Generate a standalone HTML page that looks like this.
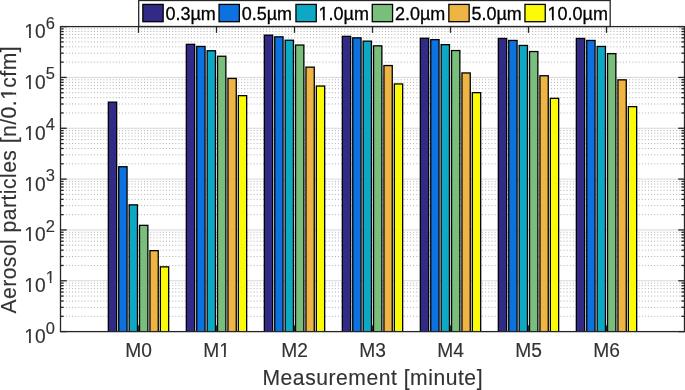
<!DOCTYPE html>
<html><head><meta charset="utf-8"><style>
html,body{margin:0;padding:0;background:#fff;}
svg{display:block;font-family:"Liberation Sans",sans-serif;will-change:transform;}
</style></head><body>
<svg width="685" height="390" viewBox="0 0 685 390">
<rect width="685" height="390" fill="#fff"/>
<line x1="60.5" x2="684.5" y1="316.30" y2="316.30" stroke="#b0b0b0" stroke-width="1" stroke-dasharray="1 2.13" stroke-dashoffset="1.0"/>
<line x1="60.5" x2="684.5" y1="307.35" y2="307.35" stroke="#b0b0b0" stroke-width="1" stroke-dasharray="1 2.13" stroke-dashoffset="1.0"/>
<line x1="60.5" x2="684.5" y1="301.00" y2="301.00" stroke="#b0b0b0" stroke-width="1" stroke-dasharray="1 2.13" stroke-dashoffset="1.0"/>
<line x1="60.5" x2="684.5" y1="296.07" y2="296.07" stroke="#b0b0b0" stroke-width="1" stroke-dasharray="1 2.13" stroke-dashoffset="1.0"/>
<line x1="60.5" x2="684.5" y1="292.04" y2="292.04" stroke="#b0b0b0" stroke-width="1" stroke-dasharray="1 2.13" stroke-dashoffset="1.0"/>
<line x1="60.5" x2="684.5" y1="288.64" y2="288.64" stroke="#b0b0b0" stroke-width="1" stroke-dasharray="1 2.13" stroke-dashoffset="1.0"/>
<line x1="60.5" x2="684.5" y1="285.69" y2="285.69" stroke="#b0b0b0" stroke-width="1" stroke-dasharray="1 2.13" stroke-dashoffset="1.0"/>
<line x1="60.5" x2="684.5" y1="283.09" y2="283.09" stroke="#b0b0b0" stroke-width="1" stroke-dasharray="1 2.13" stroke-dashoffset="1.0"/>
<line x1="60.5" x2="684.5" y1="265.46" y2="265.46" stroke="#b0b0b0" stroke-width="1" stroke-dasharray="1 2.13" stroke-dashoffset="1.0"/>
<line x1="60.5" x2="684.5" y1="256.51" y2="256.51" stroke="#b0b0b0" stroke-width="1" stroke-dasharray="1 2.13" stroke-dashoffset="1.0"/>
<line x1="60.5" x2="684.5" y1="250.16" y2="250.16" stroke="#b0b0b0" stroke-width="1" stroke-dasharray="1 2.13" stroke-dashoffset="1.0"/>
<line x1="60.5" x2="684.5" y1="245.24" y2="245.24" stroke="#b0b0b0" stroke-width="1" stroke-dasharray="1 2.13" stroke-dashoffset="1.0"/>
<line x1="60.5" x2="684.5" y1="241.21" y2="241.21" stroke="#b0b0b0" stroke-width="1" stroke-dasharray="1 2.13" stroke-dashoffset="1.0"/>
<line x1="60.5" x2="684.5" y1="237.81" y2="237.81" stroke="#b0b0b0" stroke-width="1" stroke-dasharray="1 2.13" stroke-dashoffset="1.0"/>
<line x1="60.5" x2="684.5" y1="234.86" y2="234.86" stroke="#b0b0b0" stroke-width="1" stroke-dasharray="1 2.13" stroke-dashoffset="1.0"/>
<line x1="60.5" x2="684.5" y1="232.26" y2="232.26" stroke="#b0b0b0" stroke-width="1" stroke-dasharray="1 2.13" stroke-dashoffset="1.0"/>
<line x1="60.5" x2="684.5" y1="214.63" y2="214.63" stroke="#b0b0b0" stroke-width="1" stroke-dasharray="1 2.13" stroke-dashoffset="1.0"/>
<line x1="60.5" x2="684.5" y1="205.68" y2="205.68" stroke="#b0b0b0" stroke-width="1" stroke-dasharray="1 2.13" stroke-dashoffset="1.0"/>
<line x1="60.5" x2="684.5" y1="199.33" y2="199.33" stroke="#b0b0b0" stroke-width="1" stroke-dasharray="1 2.13" stroke-dashoffset="1.0"/>
<line x1="60.5" x2="684.5" y1="194.40" y2="194.40" stroke="#b0b0b0" stroke-width="1" stroke-dasharray="1 2.13" stroke-dashoffset="1.0"/>
<line x1="60.5" x2="684.5" y1="190.38" y2="190.38" stroke="#b0b0b0" stroke-width="1" stroke-dasharray="1 2.13" stroke-dashoffset="1.0"/>
<line x1="60.5" x2="684.5" y1="186.97" y2="186.97" stroke="#b0b0b0" stroke-width="1" stroke-dasharray="1 2.13" stroke-dashoffset="1.0"/>
<line x1="60.5" x2="684.5" y1="184.03" y2="184.03" stroke="#b0b0b0" stroke-width="1" stroke-dasharray="1 2.13" stroke-dashoffset="1.0"/>
<line x1="60.5" x2="684.5" y1="181.43" y2="181.43" stroke="#b0b0b0" stroke-width="1" stroke-dasharray="1 2.13" stroke-dashoffset="1.0"/>
<line x1="60.5" x2="684.5" y1="163.80" y2="163.80" stroke="#b0b0b0" stroke-width="1" stroke-dasharray="1 2.13" stroke-dashoffset="1.0"/>
<line x1="60.5" x2="684.5" y1="154.85" y2="154.85" stroke="#b0b0b0" stroke-width="1" stroke-dasharray="1 2.13" stroke-dashoffset="1.0"/>
<line x1="60.5" x2="684.5" y1="148.50" y2="148.50" stroke="#b0b0b0" stroke-width="1" stroke-dasharray="1 2.13" stroke-dashoffset="1.0"/>
<line x1="60.5" x2="684.5" y1="143.57" y2="143.57" stroke="#b0b0b0" stroke-width="1" stroke-dasharray="1 2.13" stroke-dashoffset="1.0"/>
<line x1="60.5" x2="684.5" y1="139.54" y2="139.54" stroke="#b0b0b0" stroke-width="1" stroke-dasharray="1 2.13" stroke-dashoffset="1.0"/>
<line x1="60.5" x2="684.5" y1="136.14" y2="136.14" stroke="#b0b0b0" stroke-width="1" stroke-dasharray="1 2.13" stroke-dashoffset="1.0"/>
<line x1="60.5" x2="684.5" y1="133.19" y2="133.19" stroke="#b0b0b0" stroke-width="1" stroke-dasharray="1 2.13" stroke-dashoffset="1.0"/>
<line x1="60.5" x2="684.5" y1="130.59" y2="130.59" stroke="#b0b0b0" stroke-width="1" stroke-dasharray="1 2.13" stroke-dashoffset="1.0"/>
<line x1="60.5" x2="684.5" y1="112.96" y2="112.96" stroke="#b0b0b0" stroke-width="1" stroke-dasharray="1 2.13" stroke-dashoffset="1.0"/>
<line x1="60.5" x2="684.5" y1="104.01" y2="104.01" stroke="#b0b0b0" stroke-width="1" stroke-dasharray="1 2.13" stroke-dashoffset="1.0"/>
<line x1="60.5" x2="684.5" y1="97.66" y2="97.66" stroke="#b0b0b0" stroke-width="1" stroke-dasharray="1 2.13" stroke-dashoffset="1.0"/>
<line x1="60.5" x2="684.5" y1="92.74" y2="92.74" stroke="#b0b0b0" stroke-width="1" stroke-dasharray="1 2.13" stroke-dashoffset="1.0"/>
<line x1="60.5" x2="684.5" y1="88.71" y2="88.71" stroke="#b0b0b0" stroke-width="1" stroke-dasharray="1 2.13" stroke-dashoffset="1.0"/>
<line x1="60.5" x2="684.5" y1="85.31" y2="85.31" stroke="#b0b0b0" stroke-width="1" stroke-dasharray="1 2.13" stroke-dashoffset="1.0"/>
<line x1="60.5" x2="684.5" y1="82.36" y2="82.36" stroke="#b0b0b0" stroke-width="1" stroke-dasharray="1 2.13" stroke-dashoffset="1.0"/>
<line x1="60.5" x2="684.5" y1="79.76" y2="79.76" stroke="#b0b0b0" stroke-width="1" stroke-dasharray="1 2.13" stroke-dashoffset="1.0"/>
<line x1="60.5" x2="684.5" y1="62.13" y2="62.13" stroke="#b0b0b0" stroke-width="1" stroke-dasharray="1 2.13" stroke-dashoffset="1.0"/>
<line x1="60.5" x2="684.5" y1="53.18" y2="53.18" stroke="#b0b0b0" stroke-width="1" stroke-dasharray="1 2.13" stroke-dashoffset="1.0"/>
<line x1="60.5" x2="684.5" y1="46.83" y2="46.83" stroke="#b0b0b0" stroke-width="1" stroke-dasharray="1 2.13" stroke-dashoffset="1.0"/>
<line x1="60.5" x2="684.5" y1="41.90" y2="41.90" stroke="#b0b0b0" stroke-width="1" stroke-dasharray="1 2.13" stroke-dashoffset="1.0"/>
<line x1="60.5" x2="684.5" y1="37.88" y2="37.88" stroke="#b0b0b0" stroke-width="1" stroke-dasharray="1 2.13" stroke-dashoffset="1.0"/>
<line x1="60.5" x2="684.5" y1="34.47" y2="34.47" stroke="#b0b0b0" stroke-width="1" stroke-dasharray="1 2.13" stroke-dashoffset="1.0"/>
<line x1="60.5" x2="684.5" y1="31.53" y2="31.53" stroke="#b0b0b0" stroke-width="1" stroke-dasharray="1 2.13" stroke-dashoffset="1.0"/>
<line x1="60.5" x2="684.5" y1="28.93" y2="28.93" stroke="#b0b0b0" stroke-width="1" stroke-dasharray="1 2.13" stroke-dashoffset="1.0"/>
<line x1="60.5" x2="684.5" y1="280.77" y2="280.77" stroke="#d8d8d8" stroke-width="1"/>
<line x1="60.5" x2="684.5" y1="229.93" y2="229.93" stroke="#d8d8d8" stroke-width="1"/>
<line x1="60.5" x2="684.5" y1="179.10" y2="179.10" stroke="#d8d8d8" stroke-width="1"/>
<line x1="60.5" x2="684.5" y1="128.27" y2="128.27" stroke="#d8d8d8" stroke-width="1"/>
<line x1="60.5" x2="684.5" y1="77.43" y2="77.43" stroke="#d8d8d8" stroke-width="1"/>
<rect x="108.34" y="102.15" width="8.32" height="232.45" fill="#322a87" stroke="#000" stroke-width="1.3"/>
<rect x="118.74" y="166.75" width="8.32" height="167.85" fill="#0c72e0" stroke="#000" stroke-width="1.3"/>
<rect x="129.14" y="204.85" width="8.32" height="129.75" fill="#0ca8c4" stroke="#000" stroke-width="1.3"/>
<rect x="139.54" y="225.35" width="8.32" height="109.25" fill="#7abe7b" stroke="#000" stroke-width="1.3"/>
<rect x="149.94" y="250.65" width="8.32" height="83.95" fill="#eeb444" stroke="#000" stroke-width="1.3"/>
<rect x="160.34" y="266.85" width="8.32" height="67.75" fill="#fbfb08" stroke="#000" stroke-width="1.3"/>
<rect x="186.34" y="44.35" width="8.32" height="290.25" fill="#322a87" stroke="#000" stroke-width="1.3"/>
<rect x="196.74" y="46.45" width="8.32" height="288.15" fill="#0c72e0" stroke="#000" stroke-width="1.3"/>
<rect x="207.14" y="50.75" width="8.32" height="283.85" fill="#0ca8c4" stroke="#000" stroke-width="1.3"/>
<rect x="217.54" y="56.25" width="8.32" height="278.35" fill="#7abe7b" stroke="#000" stroke-width="1.3"/>
<rect x="227.94" y="78.45" width="8.32" height="256.15" fill="#eeb444" stroke="#000" stroke-width="1.3"/>
<rect x="238.34" y="95.65" width="8.32" height="238.95" fill="#fbfb08" stroke="#000" stroke-width="1.3"/>
<rect x="264.34" y="35.15" width="8.32" height="299.45" fill="#322a87" stroke="#000" stroke-width="1.3"/>
<rect x="274.74" y="36.85" width="8.32" height="297.75" fill="#0c72e0" stroke="#000" stroke-width="1.3"/>
<rect x="285.14" y="40.25" width="8.32" height="294.35" fill="#0ca8c4" stroke="#000" stroke-width="1.3"/>
<rect x="295.54" y="45.05" width="8.32" height="289.55" fill="#7abe7b" stroke="#000" stroke-width="1.3"/>
<rect x="305.94" y="67.15" width="8.32" height="267.45" fill="#eeb444" stroke="#000" stroke-width="1.3"/>
<rect x="316.34" y="86.05" width="8.32" height="248.55" fill="#fbfb08" stroke="#000" stroke-width="1.3"/>
<rect x="342.34" y="36.35" width="8.32" height="298.25" fill="#322a87" stroke="#000" stroke-width="1.3"/>
<rect x="352.74" y="37.85" width="8.32" height="296.75" fill="#0c72e0" stroke="#000" stroke-width="1.3"/>
<rect x="363.14" y="41.15" width="8.32" height="293.45" fill="#0ca8c4" stroke="#000" stroke-width="1.3"/>
<rect x="373.54" y="45.85" width="8.32" height="288.75" fill="#7abe7b" stroke="#000" stroke-width="1.3"/>
<rect x="383.94" y="65.55" width="8.32" height="269.05" fill="#eeb444" stroke="#000" stroke-width="1.3"/>
<rect x="394.34" y="83.95" width="8.32" height="250.65" fill="#fbfb08" stroke="#000" stroke-width="1.3"/>
<rect x="420.34" y="38.25" width="8.32" height="296.35" fill="#322a87" stroke="#000" stroke-width="1.3"/>
<rect x="430.74" y="39.65" width="8.32" height="294.95" fill="#0c72e0" stroke="#000" stroke-width="1.3"/>
<rect x="441.14" y="44.65" width="8.32" height="289.95" fill="#0ca8c4" stroke="#000" stroke-width="1.3"/>
<rect x="451.54" y="50.55" width="8.32" height="284.05" fill="#7abe7b" stroke="#000" stroke-width="1.3"/>
<rect x="461.94" y="72.95" width="8.32" height="261.65" fill="#eeb444" stroke="#000" stroke-width="1.3"/>
<rect x="472.34" y="92.65" width="8.32" height="241.95" fill="#fbfb08" stroke="#000" stroke-width="1.3"/>
<rect x="498.34" y="38.45" width="8.32" height="296.15" fill="#322a87" stroke="#000" stroke-width="1.3"/>
<rect x="508.74" y="40.45" width="8.32" height="294.15" fill="#0c72e0" stroke="#000" stroke-width="1.3"/>
<rect x="519.14" y="45.45" width="8.32" height="289.15" fill="#0ca8c4" stroke="#000" stroke-width="1.3"/>
<rect x="529.54" y="51.55" width="8.32" height="283.05" fill="#7abe7b" stroke="#000" stroke-width="1.3"/>
<rect x="539.94" y="75.75" width="8.32" height="258.85" fill="#eeb444" stroke="#000" stroke-width="1.3"/>
<rect x="550.34" y="98.35" width="8.32" height="236.25" fill="#fbfb08" stroke="#000" stroke-width="1.3"/>
<rect x="576.34" y="38.45" width="8.32" height="296.15" fill="#322a87" stroke="#000" stroke-width="1.3"/>
<rect x="586.74" y="40.45" width="8.32" height="294.15" fill="#0c72e0" stroke="#000" stroke-width="1.3"/>
<rect x="597.14" y="46.45" width="8.32" height="288.15" fill="#0ca8c4" stroke="#000" stroke-width="1.3"/>
<rect x="607.54" y="53.65" width="8.32" height="280.95" fill="#7abe7b" stroke="#000" stroke-width="1.3"/>
<rect x="617.94" y="79.85" width="8.32" height="254.75" fill="#eeb444" stroke="#000" stroke-width="1.3"/>
<rect x="628.34" y="106.65" width="8.32" height="227.95" fill="#fbfb08" stroke="#000" stroke-width="1.3"/>
<rect x="0" y="331.6" width="685" height="60" fill="#fff"/>
<line x1="138.50" x2="138.50" y1="331.6" y2="325.36" stroke="#262626" stroke-width="1.3"/>
<line x1="138.50" x2="138.50" y1="26.6" y2="32.84" stroke="#262626" stroke-width="1.3"/>
<line x1="216.50" x2="216.50" y1="331.6" y2="325.36" stroke="#262626" stroke-width="1.3"/>
<line x1="216.50" x2="216.50" y1="26.6" y2="32.84" stroke="#262626" stroke-width="1.3"/>
<line x1="294.50" x2="294.50" y1="331.6" y2="325.36" stroke="#262626" stroke-width="1.3"/>
<line x1="294.50" x2="294.50" y1="26.6" y2="32.84" stroke="#262626" stroke-width="1.3"/>
<line x1="372.50" x2="372.50" y1="331.6" y2="325.36" stroke="#262626" stroke-width="1.3"/>
<line x1="372.50" x2="372.50" y1="26.6" y2="32.84" stroke="#262626" stroke-width="1.3"/>
<line x1="450.50" x2="450.50" y1="331.6" y2="325.36" stroke="#262626" stroke-width="1.3"/>
<line x1="450.50" x2="450.50" y1="26.6" y2="32.84" stroke="#262626" stroke-width="1.3"/>
<line x1="528.50" x2="528.50" y1="331.6" y2="325.36" stroke="#262626" stroke-width="1.3"/>
<line x1="528.50" x2="528.50" y1="26.6" y2="32.84" stroke="#262626" stroke-width="1.3"/>
<line x1="606.50" x2="606.50" y1="331.6" y2="325.36" stroke="#262626" stroke-width="1.3"/>
<line x1="606.50" x2="606.50" y1="26.6" y2="32.84" stroke="#262626" stroke-width="1.3"/>
<line x1="60.5" x2="66.74" y1="331.60" y2="331.60" stroke="#262626" stroke-width="1.3"/>
<line x1="684.5" x2="678.26" y1="331.60" y2="331.60" stroke="#262626" stroke-width="1.3"/>
<line x1="60.5" x2="63.62" y1="316.30" y2="316.30" stroke="#262626" stroke-width="1.3"/>
<line x1="684.5" x2="681.38" y1="316.30" y2="316.30" stroke="#262626" stroke-width="1.3"/>
<line x1="60.5" x2="63.62" y1="307.35" y2="307.35" stroke="#262626" stroke-width="1.3"/>
<line x1="684.5" x2="681.38" y1="307.35" y2="307.35" stroke="#262626" stroke-width="1.3"/>
<line x1="60.5" x2="63.62" y1="301.00" y2="301.00" stroke="#262626" stroke-width="1.3"/>
<line x1="684.5" x2="681.38" y1="301.00" y2="301.00" stroke="#262626" stroke-width="1.3"/>
<line x1="60.5" x2="63.62" y1="296.07" y2="296.07" stroke="#262626" stroke-width="1.3"/>
<line x1="684.5" x2="681.38" y1="296.07" y2="296.07" stroke="#262626" stroke-width="1.3"/>
<line x1="60.5" x2="63.62" y1="292.04" y2="292.04" stroke="#262626" stroke-width="1.3"/>
<line x1="684.5" x2="681.38" y1="292.04" y2="292.04" stroke="#262626" stroke-width="1.3"/>
<line x1="60.5" x2="63.62" y1="288.64" y2="288.64" stroke="#262626" stroke-width="1.3"/>
<line x1="684.5" x2="681.38" y1="288.64" y2="288.64" stroke="#262626" stroke-width="1.3"/>
<line x1="60.5" x2="63.62" y1="285.69" y2="285.69" stroke="#262626" stroke-width="1.3"/>
<line x1="684.5" x2="681.38" y1="285.69" y2="285.69" stroke="#262626" stroke-width="1.3"/>
<line x1="60.5" x2="63.62" y1="283.09" y2="283.09" stroke="#262626" stroke-width="1.3"/>
<line x1="684.5" x2="681.38" y1="283.09" y2="283.09" stroke="#262626" stroke-width="1.3"/>
<line x1="60.5" x2="66.74" y1="280.77" y2="280.77" stroke="#262626" stroke-width="1.3"/>
<line x1="684.5" x2="678.26" y1="280.77" y2="280.77" stroke="#262626" stroke-width="1.3"/>
<line x1="60.5" x2="63.62" y1="265.46" y2="265.46" stroke="#262626" stroke-width="1.3"/>
<line x1="684.5" x2="681.38" y1="265.46" y2="265.46" stroke="#262626" stroke-width="1.3"/>
<line x1="60.5" x2="63.62" y1="256.51" y2="256.51" stroke="#262626" stroke-width="1.3"/>
<line x1="684.5" x2="681.38" y1="256.51" y2="256.51" stroke="#262626" stroke-width="1.3"/>
<line x1="60.5" x2="63.62" y1="250.16" y2="250.16" stroke="#262626" stroke-width="1.3"/>
<line x1="684.5" x2="681.38" y1="250.16" y2="250.16" stroke="#262626" stroke-width="1.3"/>
<line x1="60.5" x2="63.62" y1="245.24" y2="245.24" stroke="#262626" stroke-width="1.3"/>
<line x1="684.5" x2="681.38" y1="245.24" y2="245.24" stroke="#262626" stroke-width="1.3"/>
<line x1="60.5" x2="63.62" y1="241.21" y2="241.21" stroke="#262626" stroke-width="1.3"/>
<line x1="684.5" x2="681.38" y1="241.21" y2="241.21" stroke="#262626" stroke-width="1.3"/>
<line x1="60.5" x2="63.62" y1="237.81" y2="237.81" stroke="#262626" stroke-width="1.3"/>
<line x1="684.5" x2="681.38" y1="237.81" y2="237.81" stroke="#262626" stroke-width="1.3"/>
<line x1="60.5" x2="63.62" y1="234.86" y2="234.86" stroke="#262626" stroke-width="1.3"/>
<line x1="684.5" x2="681.38" y1="234.86" y2="234.86" stroke="#262626" stroke-width="1.3"/>
<line x1="60.5" x2="63.62" y1="232.26" y2="232.26" stroke="#262626" stroke-width="1.3"/>
<line x1="684.5" x2="681.38" y1="232.26" y2="232.26" stroke="#262626" stroke-width="1.3"/>
<line x1="60.5" x2="66.74" y1="229.93" y2="229.93" stroke="#262626" stroke-width="1.3"/>
<line x1="684.5" x2="678.26" y1="229.93" y2="229.93" stroke="#262626" stroke-width="1.3"/>
<line x1="60.5" x2="63.62" y1="214.63" y2="214.63" stroke="#262626" stroke-width="1.3"/>
<line x1="684.5" x2="681.38" y1="214.63" y2="214.63" stroke="#262626" stroke-width="1.3"/>
<line x1="60.5" x2="63.62" y1="205.68" y2="205.68" stroke="#262626" stroke-width="1.3"/>
<line x1="684.5" x2="681.38" y1="205.68" y2="205.68" stroke="#262626" stroke-width="1.3"/>
<line x1="60.5" x2="63.62" y1="199.33" y2="199.33" stroke="#262626" stroke-width="1.3"/>
<line x1="684.5" x2="681.38" y1="199.33" y2="199.33" stroke="#262626" stroke-width="1.3"/>
<line x1="60.5" x2="63.62" y1="194.40" y2="194.40" stroke="#262626" stroke-width="1.3"/>
<line x1="684.5" x2="681.38" y1="194.40" y2="194.40" stroke="#262626" stroke-width="1.3"/>
<line x1="60.5" x2="63.62" y1="190.38" y2="190.38" stroke="#262626" stroke-width="1.3"/>
<line x1="684.5" x2="681.38" y1="190.38" y2="190.38" stroke="#262626" stroke-width="1.3"/>
<line x1="60.5" x2="63.62" y1="186.97" y2="186.97" stroke="#262626" stroke-width="1.3"/>
<line x1="684.5" x2="681.38" y1="186.97" y2="186.97" stroke="#262626" stroke-width="1.3"/>
<line x1="60.5" x2="63.62" y1="184.03" y2="184.03" stroke="#262626" stroke-width="1.3"/>
<line x1="684.5" x2="681.38" y1="184.03" y2="184.03" stroke="#262626" stroke-width="1.3"/>
<line x1="60.5" x2="63.62" y1="181.43" y2="181.43" stroke="#262626" stroke-width="1.3"/>
<line x1="684.5" x2="681.38" y1="181.43" y2="181.43" stroke="#262626" stroke-width="1.3"/>
<line x1="60.5" x2="66.74" y1="179.10" y2="179.10" stroke="#262626" stroke-width="1.3"/>
<line x1="684.5" x2="678.26" y1="179.10" y2="179.10" stroke="#262626" stroke-width="1.3"/>
<line x1="60.5" x2="63.62" y1="163.80" y2="163.80" stroke="#262626" stroke-width="1.3"/>
<line x1="684.5" x2="681.38" y1="163.80" y2="163.80" stroke="#262626" stroke-width="1.3"/>
<line x1="60.5" x2="63.62" y1="154.85" y2="154.85" stroke="#262626" stroke-width="1.3"/>
<line x1="684.5" x2="681.38" y1="154.85" y2="154.85" stroke="#262626" stroke-width="1.3"/>
<line x1="60.5" x2="63.62" y1="148.50" y2="148.50" stroke="#262626" stroke-width="1.3"/>
<line x1="684.5" x2="681.38" y1="148.50" y2="148.50" stroke="#262626" stroke-width="1.3"/>
<line x1="60.5" x2="63.62" y1="143.57" y2="143.57" stroke="#262626" stroke-width="1.3"/>
<line x1="684.5" x2="681.38" y1="143.57" y2="143.57" stroke="#262626" stroke-width="1.3"/>
<line x1="60.5" x2="63.62" y1="139.54" y2="139.54" stroke="#262626" stroke-width="1.3"/>
<line x1="684.5" x2="681.38" y1="139.54" y2="139.54" stroke="#262626" stroke-width="1.3"/>
<line x1="60.5" x2="63.62" y1="136.14" y2="136.14" stroke="#262626" stroke-width="1.3"/>
<line x1="684.5" x2="681.38" y1="136.14" y2="136.14" stroke="#262626" stroke-width="1.3"/>
<line x1="60.5" x2="63.62" y1="133.19" y2="133.19" stroke="#262626" stroke-width="1.3"/>
<line x1="684.5" x2="681.38" y1="133.19" y2="133.19" stroke="#262626" stroke-width="1.3"/>
<line x1="60.5" x2="63.62" y1="130.59" y2="130.59" stroke="#262626" stroke-width="1.3"/>
<line x1="684.5" x2="681.38" y1="130.59" y2="130.59" stroke="#262626" stroke-width="1.3"/>
<line x1="60.5" x2="66.74" y1="128.27" y2="128.27" stroke="#262626" stroke-width="1.3"/>
<line x1="684.5" x2="678.26" y1="128.27" y2="128.27" stroke="#262626" stroke-width="1.3"/>
<line x1="60.5" x2="63.62" y1="112.96" y2="112.96" stroke="#262626" stroke-width="1.3"/>
<line x1="684.5" x2="681.38" y1="112.96" y2="112.96" stroke="#262626" stroke-width="1.3"/>
<line x1="60.5" x2="63.62" y1="104.01" y2="104.01" stroke="#262626" stroke-width="1.3"/>
<line x1="684.5" x2="681.38" y1="104.01" y2="104.01" stroke="#262626" stroke-width="1.3"/>
<line x1="60.5" x2="63.62" y1="97.66" y2="97.66" stroke="#262626" stroke-width="1.3"/>
<line x1="684.5" x2="681.38" y1="97.66" y2="97.66" stroke="#262626" stroke-width="1.3"/>
<line x1="60.5" x2="63.62" y1="92.74" y2="92.74" stroke="#262626" stroke-width="1.3"/>
<line x1="684.5" x2="681.38" y1="92.74" y2="92.74" stroke="#262626" stroke-width="1.3"/>
<line x1="60.5" x2="63.62" y1="88.71" y2="88.71" stroke="#262626" stroke-width="1.3"/>
<line x1="684.5" x2="681.38" y1="88.71" y2="88.71" stroke="#262626" stroke-width="1.3"/>
<line x1="60.5" x2="63.62" y1="85.31" y2="85.31" stroke="#262626" stroke-width="1.3"/>
<line x1="684.5" x2="681.38" y1="85.31" y2="85.31" stroke="#262626" stroke-width="1.3"/>
<line x1="60.5" x2="63.62" y1="82.36" y2="82.36" stroke="#262626" stroke-width="1.3"/>
<line x1="684.5" x2="681.38" y1="82.36" y2="82.36" stroke="#262626" stroke-width="1.3"/>
<line x1="60.5" x2="63.62" y1="79.76" y2="79.76" stroke="#262626" stroke-width="1.3"/>
<line x1="684.5" x2="681.38" y1="79.76" y2="79.76" stroke="#262626" stroke-width="1.3"/>
<line x1="60.5" x2="66.74" y1="77.43" y2="77.43" stroke="#262626" stroke-width="1.3"/>
<line x1="684.5" x2="678.26" y1="77.43" y2="77.43" stroke="#262626" stroke-width="1.3"/>
<line x1="60.5" x2="63.62" y1="62.13" y2="62.13" stroke="#262626" stroke-width="1.3"/>
<line x1="684.5" x2="681.38" y1="62.13" y2="62.13" stroke="#262626" stroke-width="1.3"/>
<line x1="60.5" x2="63.62" y1="53.18" y2="53.18" stroke="#262626" stroke-width="1.3"/>
<line x1="684.5" x2="681.38" y1="53.18" y2="53.18" stroke="#262626" stroke-width="1.3"/>
<line x1="60.5" x2="63.62" y1="46.83" y2="46.83" stroke="#262626" stroke-width="1.3"/>
<line x1="684.5" x2="681.38" y1="46.83" y2="46.83" stroke="#262626" stroke-width="1.3"/>
<line x1="60.5" x2="63.62" y1="41.90" y2="41.90" stroke="#262626" stroke-width="1.3"/>
<line x1="684.5" x2="681.38" y1="41.90" y2="41.90" stroke="#262626" stroke-width="1.3"/>
<line x1="60.5" x2="63.62" y1="37.88" y2="37.88" stroke="#262626" stroke-width="1.3"/>
<line x1="684.5" x2="681.38" y1="37.88" y2="37.88" stroke="#262626" stroke-width="1.3"/>
<line x1="60.5" x2="63.62" y1="34.47" y2="34.47" stroke="#262626" stroke-width="1.3"/>
<line x1="684.5" x2="681.38" y1="34.47" y2="34.47" stroke="#262626" stroke-width="1.3"/>
<line x1="60.5" x2="63.62" y1="31.53" y2="31.53" stroke="#262626" stroke-width="1.3"/>
<line x1="684.5" x2="681.38" y1="31.53" y2="31.53" stroke="#262626" stroke-width="1.3"/>
<line x1="60.5" x2="63.62" y1="28.93" y2="28.93" stroke="#262626" stroke-width="1.3"/>
<line x1="684.5" x2="681.38" y1="28.93" y2="28.93" stroke="#262626" stroke-width="1.3"/>
<line x1="60.5" x2="66.74" y1="26.60" y2="26.60" stroke="#262626" stroke-width="1.3"/>
<line x1="684.5" x2="678.26" y1="26.60" y2="26.60" stroke="#262626" stroke-width="1.3"/>
<rect x="60.5" y="26.6" width="624.0" height="305.0" fill="none" stroke="#262626" stroke-width="1.3"/>
<text transform="translate(45.60,343.00) scale(1,1.04)" font-size="19.2" fill="#333333" text-anchor="end" stroke="#333333" stroke-width="0.15">10</text>
<text transform="translate(45.80,333.60) scale(1,1.04)" font-size="16.5" fill="#333333" text-anchor="start" stroke="#333333" stroke-width="0.15">0</text>
<text transform="translate(45.60,292.17) scale(1,1.04)" font-size="19.2" fill="#333333" text-anchor="end" stroke="#333333" stroke-width="0.15">10</text>
<text transform="translate(45.80,282.77) scale(1,1.04)" font-size="16.5" fill="#333333" text-anchor="start" stroke="#333333" stroke-width="0.15">1</text>
<text transform="translate(45.60,241.33) scale(1,1.04)" font-size="19.2" fill="#333333" text-anchor="end" stroke="#333333" stroke-width="0.15">10</text>
<text transform="translate(45.80,231.93) scale(1,1.04)" font-size="16.5" fill="#333333" text-anchor="start" stroke="#333333" stroke-width="0.15">2</text>
<text transform="translate(45.60,190.50) scale(1,1.04)" font-size="19.2" fill="#333333" text-anchor="end" stroke="#333333" stroke-width="0.15">10</text>
<text transform="translate(45.80,181.10) scale(1,1.04)" font-size="16.5" fill="#333333" text-anchor="start" stroke="#333333" stroke-width="0.15">3</text>
<text transform="translate(45.60,139.67) scale(1,1.04)" font-size="19.2" fill="#333333" text-anchor="end" stroke="#333333" stroke-width="0.15">10</text>
<text transform="translate(45.80,130.27) scale(1,1.04)" font-size="16.5" fill="#333333" text-anchor="start" stroke="#333333" stroke-width="0.15">4</text>
<text transform="translate(45.60,88.83) scale(1,1.04)" font-size="19.2" fill="#333333" text-anchor="end" stroke="#333333" stroke-width="0.15">10</text>
<text transform="translate(45.80,79.43) scale(1,1.04)" font-size="16.5" fill="#333333" text-anchor="start" stroke="#333333" stroke-width="0.15">5</text>
<text transform="translate(45.60,38.00) scale(1,1.04)" font-size="19.2" fill="#333333" text-anchor="end" stroke="#333333" stroke-width="0.15">10</text>
<text transform="translate(45.80,28.60) scale(1,1.04)" font-size="16.5" fill="#333333" text-anchor="start" stroke="#333333" stroke-width="0.15">6</text>
<text transform="translate(138.50,356.90) scale(1,1.04)" font-size="19.2" fill="#333333" text-anchor="middle" stroke="#333333" stroke-width="0.15">M0</text>
<text transform="translate(216.50,356.90) scale(1,1.04)" font-size="19.2" fill="#333333" text-anchor="middle" stroke="#333333" stroke-width="0.15">M1</text>
<text transform="translate(294.50,356.90) scale(1,1.04)" font-size="19.2" fill="#333333" text-anchor="middle" stroke="#333333" stroke-width="0.15">M2</text>
<text transform="translate(372.50,356.90) scale(1,1.04)" font-size="19.2" fill="#333333" text-anchor="middle" stroke="#333333" stroke-width="0.15">M3</text>
<text transform="translate(450.50,356.90) scale(1,1.04)" font-size="19.2" fill="#333333" text-anchor="middle" stroke="#333333" stroke-width="0.15">M4</text>
<text transform="translate(528.50,356.90) scale(1,1.04)" font-size="19.2" fill="#333333" text-anchor="middle" stroke="#333333" stroke-width="0.15">M5</text>
<text transform="translate(606.50,356.90) scale(1,1.04)" font-size="19.2" fill="#333333" text-anchor="middle" stroke="#333333" stroke-width="0.15">M6</text>
<text transform="translate(372.50,384.60) scale(1,1.05)" font-size="21.1" fill="#333333" text-anchor="middle" textLength="220.0" lengthAdjust="spacing" stroke="#333333" stroke-width="0.15">Measurement [minute]</text>
<text transform="translate(15.80,180.00) rotate(-90) scale(1,1.05)" font-size="21.1" fill="#333333" text-anchor="middle" textLength="267.2" lengthAdjust="spacing" stroke="#333333" stroke-width="0.15">Aerosol particles [n/0.1cfm]</text>
<rect x="138.7" y="0.5" width="471.50" height="26.00" fill="#fff" stroke="#262626" stroke-width="1.3"/>
<rect x="142.85" y="4.4" width="20.3" height="17.3" fill="#322a87" stroke="#000" stroke-width="1.3"/>
<text transform="translate(165.50,20.40) scale(1,1.05)" font-size="18.0" fill="#000" text-anchor="start" stroke="#000" stroke-width="0.3">0.3µm</text>
<rect x="219.05" y="4.4" width="20.3" height="17.3" fill="#0c72e0" stroke="#000" stroke-width="1.3"/>
<text transform="translate(241.70,20.40) scale(1,1.05)" font-size="18.0" fill="#000" text-anchor="start" stroke="#000" stroke-width="0.3">0.5µm</text>
<rect x="295.95" y="4.4" width="20.3" height="17.3" fill="#0ca8c4" stroke="#000" stroke-width="1.3"/>
<text transform="translate(318.60,20.40) scale(1,1.05)" font-size="18.0" fill="#000" text-anchor="start" stroke="#000" stroke-width="0.3">1.0µm</text>
<rect x="372.25" y="4.4" width="20.3" height="17.3" fill="#7abe7b" stroke="#000" stroke-width="1.3"/>
<text transform="translate(394.90,20.40) scale(1,1.05)" font-size="18.0" fill="#000" text-anchor="start" stroke="#000" stroke-width="0.3">2.0µm</text>
<rect x="448.85" y="4.4" width="20.3" height="17.3" fill="#eeb444" stroke="#000" stroke-width="1.3"/>
<text transform="translate(471.50,20.40) scale(1,1.05)" font-size="18.0" fill="#000" text-anchor="start" stroke="#000" stroke-width="0.3">5.0µm</text>
<rect x="524.95" y="4.4" width="20.3" height="17.3" fill="#fbfb08" stroke="#000" stroke-width="1.3"/>
<text transform="translate(547.60,20.40) scale(1,1.05)" font-size="18.0" fill="#000" text-anchor="start" stroke="#000" stroke-width="0.3">10.0µm</text>
<g transform="translate(45.60,343.00) scale(1,1.04)"><rect x="-20.77" y="-2.69" width="4.17" height="3.39" fill="#fff"/><rect x="-14.75" y="-2.69" width="4.34" height="3.39" fill="#fff"/></g>
<g transform="translate(45.60,292.17) scale(1,1.04)"><rect x="-20.77" y="-2.69" width="4.17" height="3.39" fill="#fff"/><rect x="-14.75" y="-2.69" width="4.34" height="3.39" fill="#fff"/></g>
<g transform="translate(45.80,282.77) scale(1,1.04)"><rect x="0.49" y="-2.31" width="3.58" height="3.01" fill="#fff"/><rect x="5.68" y="-2.31" width="3.73" height="3.01" fill="#fff"/></g>
<g transform="translate(45.60,241.33) scale(1,1.04)"><rect x="-20.77" y="-2.69" width="4.17" height="3.39" fill="#fff"/><rect x="-14.75" y="-2.69" width="4.34" height="3.39" fill="#fff"/></g>
<g transform="translate(45.60,190.50) scale(1,1.04)"><rect x="-20.77" y="-2.69" width="4.17" height="3.39" fill="#fff"/><rect x="-14.75" y="-2.69" width="4.34" height="3.39" fill="#fff"/></g>
<g transform="translate(45.60,139.67) scale(1,1.04)"><rect x="-20.77" y="-2.69" width="4.17" height="3.39" fill="#fff"/><rect x="-14.75" y="-2.69" width="4.34" height="3.39" fill="#fff"/></g>
<g transform="translate(45.60,88.83) scale(1,1.04)"><rect x="-20.77" y="-2.69" width="4.17" height="3.39" fill="#fff"/><rect x="-14.75" y="-2.69" width="4.34" height="3.39" fill="#fff"/></g>
<g transform="translate(45.60,38.00) scale(1,1.04)"><rect x="-20.77" y="-2.69" width="4.17" height="3.39" fill="#fff"/><rect x="-14.75" y="-2.69" width="4.34" height="3.39" fill="#fff"/></g>
<g transform="translate(216.50,356.90) scale(1,1.04)"><rect x="3.22" y="-2.69" width="4.17" height="3.39" fill="#fff"/><rect x="9.25" y="-2.69" width="4.34" height="3.39" fill="#fff"/></g>
<g transform="translate(15.80,180.00) rotate(-90) scale(1,1.05)"><rect x="80.77" y="-2.95" width="4.58" height="3.65" fill="#fff"/><rect x="87.39" y="-2.95" width="4.77" height="3.65" fill="#fff"/></g>
<g transform="translate(318.60,20.40) scale(1,1.05)"><rect x="0.54" y="-2.52" width="3.91" height="3.22" fill="#fff"/><rect x="6.19" y="-2.52" width="4.07" height="3.22" fill="#fff"/></g>
<g transform="translate(547.60,20.40) scale(1,1.05)"><rect x="0.54" y="-2.52" width="3.91" height="3.22" fill="#fff"/><rect x="6.19" y="-2.52" width="4.07" height="3.22" fill="#fff"/></g>
</svg>
</body></html>
